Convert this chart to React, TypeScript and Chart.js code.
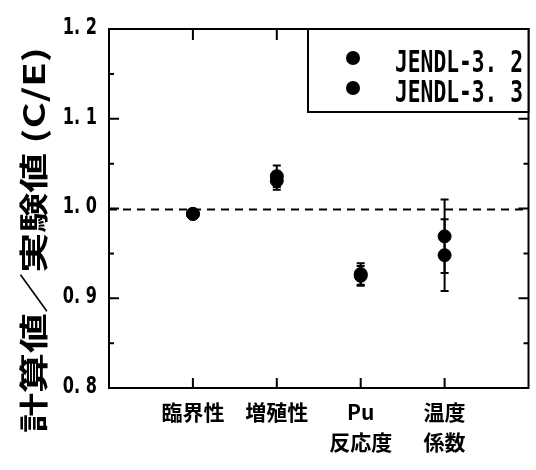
import React, { useEffect, useRef } from "react";
import { Chart, registerables } from "chart.js";

Chart.register(...registerables);

// ---- data ----
const categories: string[][] = [["臨界性"], ["増殖性"], ["Pu", "反応度"], ["温度", "係数"]];
const seriesNames = ["JENDL-3. 2", "JENDL-3. 3"];
const jendl32 = [0.994, 1.036, 0.927, 0.969];
const jendl32Err = [0.003, 0.012, 0.012, 0.041];
const jendl33 = [0.994, 1.031, 0.925, 0.948];
const jendl33Err = [0.003, 0.01, 0.011, 0.04];
const yTickLabels = ["0. 8", "0. 9", "1. 0", "1. 1", "1. 2"];
const yMin = 0.8;
const yMax = 1.2;
const yStep = 0.1;
const refValue = 1.0;
const yTitle = "計算値／実験値 (C/E)";

const series = [
  { name: seriesNames[0], values: jendl32, errs: jendl32Err },
  { name: seriesNames[1], values: jendl33, errs: jendl33Err },
];

const decorPlugin = {
  id: "decor",
  beforeDatasetsDraw(chart: any) {
    const { ctx, chartArea, scales } = chart;
    const xs = scales.x;
    const ys = scales.y;
    ctx.save();
    // reference dashed line
    ctx.strokeStyle = "#000";
    ctx.lineWidth = 2;
    ctx.setLineDash([8, 6]);
    const yr = Math.round(ys.getPixelForValue(refValue)) + 0.5;
    ctx.beginPath();
    ctx.moveTo(chartArea.left, yr);
    ctx.lineTo(chartArea.right, yr);
    ctx.stroke();
    ctx.setLineDash([]);
    // error bars
    ctx.lineWidth = 2;
    series.forEach((s) => {
      s.values.forEach((v, i) => {
        const x = xs.getPixelForValue(i + 1);
        const yt = ys.getPixelForValue(v + s.errs[i]);
        const yb = ys.getPixelForValue(v - s.errs[i]);
        ctx.beginPath();
        ctx.moveTo(x, yt);
        ctx.lineTo(x, yb);
        ctx.moveTo(x - 4, yt);
        ctx.lineTo(x + 4, yt);
        ctx.moveTo(x - 4, yb);
        ctx.lineTo(x + 4, yb);
        ctx.stroke();
      });
    });
    ctx.restore();
  },
  afterDraw(chart: any) {
    const { ctx, chartArea, scales } = chart;
    const xs = scales.x;
    const ys = scales.y;
    const { left, right, top, bottom } = chartArea;
    ctx.save();
    ctx.strokeStyle = "#000";
    ctx.fillStyle = "#000";
    ctx.lineWidth = 2;
    // frame
    ctx.strokeRect(left, top, right - left, bottom - top);
    // y ticks (major + minor) on both sides
    const n = (yTickLabels.length - 1) * 2;
    for (let i = 0; i <= n; i++) {
      const v = yMin + (i * yStep) / 2;
      const y = ys.getPixelForValue(v);
      const len = i % 2 === 0 ? 10 : 5;
      ctx.beginPath();
      ctx.moveTo(left, y);
      ctx.lineTo(left + len, y);
      ctx.moveTo(right, y);
      ctx.lineTo(right - len, y);
      ctx.stroke();
    }
    // y tick labels (narrow face)
    ctx.font = 'bold 23px "DejaVu Sans", sans-serif';
    ctx.textAlign = "right";
    ctx.textBaseline = "middle";
    ys.ticks.forEach((t: any) => {
      const idx = Math.round((t.value - yMin) / yStep);
      const label = yTickLabels[idx];
      if (label === undefined) return;
      ctx.save();
      ctx.translate(left - 12, ys.getPixelForValue(t.value) - 1);
      ctx.scale(0.7, 1);
      ctx.fillText(label, 0, 0);
      ctx.restore();
    });
    // x ticks on top and bottom
    categories.forEach((_, i) => {
      const x = xs.getPixelForValue(i + 1);
      ctx.beginPath();
      ctx.moveTo(x, top);
      ctx.lineTo(x, top + 11);
      ctx.moveTo(x, bottom);
      ctx.lineTo(x, bottom - 10);
      ctx.stroke();
    });
    // legend box
    const lx = 308;
    const ly = top;
    const lw = right - lx;
    const lh = 83;
    ctx.fillStyle = "#fff";
    ctx.fillRect(lx, ly, lw, lh);
    ctx.fillStyle = "#000";
    ctx.strokeRect(lx, ly, lw, lh);
    ctx.font = 'bold 30px "DejaVu Sans Mono", monospace';
    ctx.textBaseline = "alphabetic";
    ctx.textAlign = "left";
    series.forEach((s, i) => {
      const cy = ly + 29 + i * 30;
      ctx.beginPath();
      ctx.arc(lx + 45, cy, 7, 0, Math.PI * 2);
      ctx.fill();
      const w = ctx.measureText(s.name).width;
      const sx = 128 / w;
      ctx.save();
      ctx.translate(lx + 87, cy + 14);
      ctx.scale(sx, 1);
      ctx.fillText(s.name, 0, 0);
      ctx.restore();
    });
    // y title (stretched along its direction)
    ctx.save();
    ctx.font = 'bold 29px "Noto Sans CJK JP", sans-serif';
    ctx.textAlign = "center";
    ctx.textBaseline = "middle";
    const tw = ctx.measureText(yTitle).width;
    ctx.translate(34, 240);
    ctx.rotate(-Math.PI / 2);
    ctx.scale(386 / tw, 1);
    ctx.fillText(yTitle, 0, 0);
    ctx.restore();
    ctx.restore();
  },
};

export default function App() {
  const ref = useRef<HTMLCanvasElement | null>(null);
  useEffect(() => {
    document.body.style.margin = "0";
    const canvas = ref.current;
    if (!canvas) return;
    const chart = new Chart(canvas, {
      type: "scatter",
      data: {
        datasets: series.map((s) => ({
          label: s.name,
          data: s.values.map((v, i) => ({ x: i + 1, y: v })),
          pointRadius: 6.5,
          pointBackgroundColor: "#000",
          pointBorderColor: "#000",
          pointBorderWidth: 1,
          showLine: false,
        })),
      },
      options: {
        responsive: false,
        animation: false,
        layout: { padding: { top: 29, right: 3, left: 0, bottom: 0 } },
        plugins: {
          legend: { display: false },
          tooltip: { enabled: false },
          title: { display: false },
        },
        scales: {
          x: {
            type: "linear",
            min: 0,
            max: categories.length + 1,
            grid: { display: false, drawTicks: false },
            border: { display: false },
            afterFit: (scale: any) => {
              scale.height = 82;
            },
            afterBuildTicks: (scale: any) => {
              scale.ticks = categories.map((_, i) => ({ value: i + 1 }));
            },
            ticks: {
              autoSkip: false,
              maxRotation: 0,
              minRotation: 0,
              padding: 9,
              color: "#000",
              font: { family: '"Noto Sans CJK JP", sans-serif', size: 21, weight: "bold", lineHeight: 1.42 },
              callback: (v: any) => {
                const idx = Math.round(Number(v)) - 1;
                return categories[idx] ?? "";
              },
            },
          },
          y: {
            min: yMin,
            max: yMax,
            grid: { display: false, drawTicks: false },
            border: { display: false },
            afterFit: (scale: any) => {
              scale.width = 109;
            },
            ticks: {
              stepSize: yStep,
              padding: 12,
              color: "rgba(0,0,0,0)",
              font: { family: '"DejaVu Sans", sans-serif', size: 23 },
              callback: (v: any) => {
                const idx = Math.round((Number(v) - yMin) / yStep);
                return yTickLabels[idx] ?? "";
              },
            },
          },
        },
      },
      plugins: [decorPlugin],
    } as any);
    return () => chart.destroy();
  }, []);
  return <canvas ref={ref} width={536} height={470} style={{ display: "block", width: 536, height: 470 }} />;
}
